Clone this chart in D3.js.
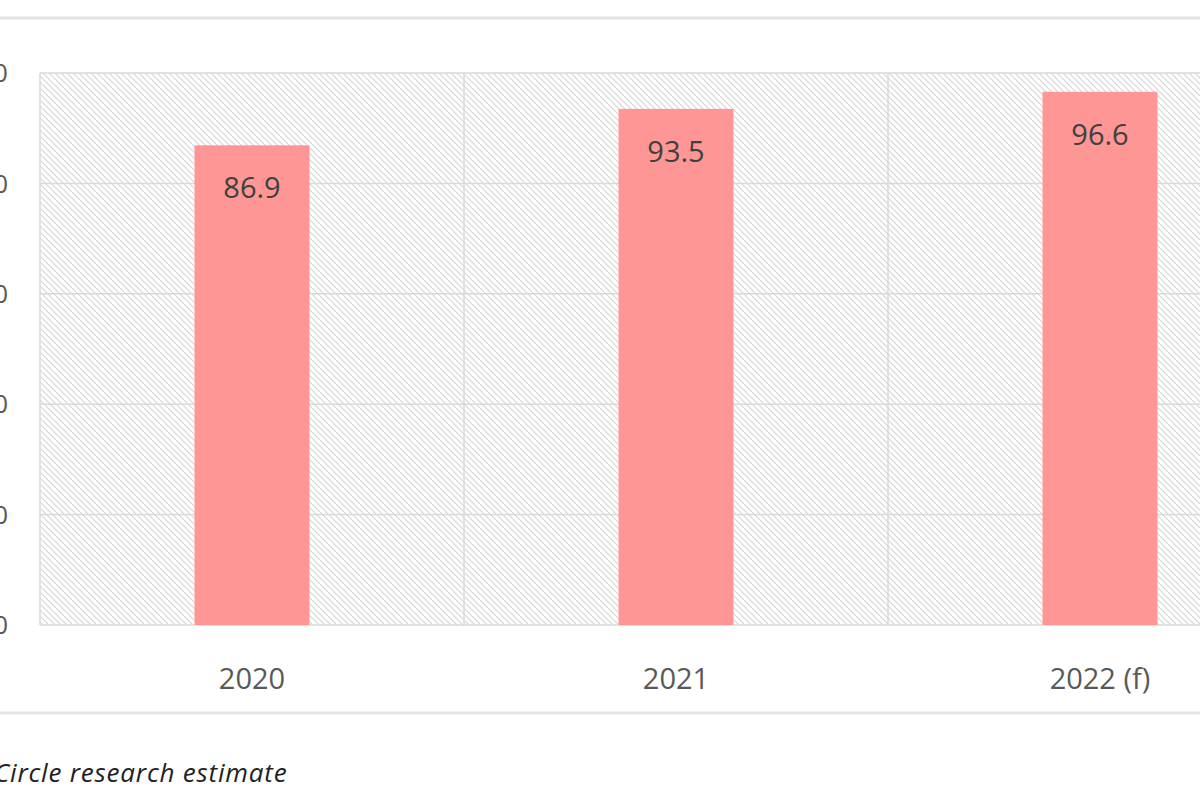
<!DOCTYPE html>
<html><head><meta charset="utf-8">
<script src="https://cdn.jsdelivr.net/npm/d3@7"></script>
<style>body{margin:0;background:#fff;overflow:hidden}</style>
</head><body><div id="chart"></div>
<script>
const width = 1200, height = 800;
const categories = ["2020", "2021", "2022 (f)"];
const values = [86.9, 93.5, 96.6];
const yTicks = [0, 20, 40, 60, 80, 100];

const svg = d3.select("#chart").append("svg").attr("width", width).attr("height", height)
    .style("font-family", "'Open Sans', sans-serif");

// hatch fill for plot background
const pat = svg.append("defs").append("pattern")
    .attr("id", "hatch").attr("patternUnits", "userSpaceOnUse")
    .attr("width", 6).attr("height", 6);
pat.append("path").attr("d", "M-1,-1 L7,7 M-1,5 L1,7 M5,-1 L7,1")
    .attr("stroke", "#d6d6d6").attr("stroke-width", 1.2);

// frame lines
svg.append("line").attr("x1", 0).attr("x2", width).attr("y1", 18).attr("y2", 18)
    .attr("stroke", "#e3e3e3").attr("stroke-width", 3);
svg.append("line").attr("x1", 0).attr("x2", width).attr("y1", 713).attr("y2", 713)
    .attr("stroke", "#e3e3e3").attr("stroke-width", 3);

const x = d3.scaleBand().domain(categories).range([40, 1312]);
const y = d3.scaleLinear().domain([0, 100]).range([625, 73]);

svg.append("rect").attr("x", 40).attr("y", y(100)).attr("width", width - 40)
    .attr("height", y(0) - y(100)).attr("fill", "url(#hatch)");

// horizontal grid
svg.append("g").selectAll("line").data(yTicks).join("line")
    .attr("x1", 40).attr("x2", width).attr("y1", d => y(d)).attr("y2", d => y(d))
    .attr("stroke", "#d9d9d9").attr("stroke-width", 1.5);
// vertical grid
svg.append("g").selectAll("line").data(categories).join("line")
    .attr("x1", d => x(d)).attr("x2", d => x(d)).attr("y1", y(100)).attr("y2", y(0))
    .attr("stroke", "#d9d9d9").attr("stroke-width", 1.5);

// y tick labels (cut off at the left edge, as in the original crop)
svg.append("g").selectAll("text").data(yTicks).join("text")
    .attr("x", 8).attr("y", d => y(d)).attr("dy", "0.35em").attr("text-anchor", "end")
    .attr("font-size", 26).attr("fill", "#595959").text(d => d);

const bw = 115;
svg.append("g").selectAll("rect").data(values).join("rect")
    .attr("x", (d, i) => x(categories[i]) + x.bandwidth() / 2 - bw / 2)
    .attr("y", d => y(d)).attr("width", bw).attr("height", d => y(0) - y(d))
    .attr("fill", "#ff9696");

svg.append("g").selectAll("text").data(values).join("text")
    .attr("x", (d, i) => x(categories[i]) + x.bandwidth() / 2)
    .attr("y", d => y(d) + 53).attr("text-anchor", "middle")
    .attr("font-size", 29).attr("fill", "#404040").text(d => d.toFixed(1));

svg.append("g").selectAll("text").data(categories).join("text")
    .attr("x", d => x(d) + x.bandwidth() / 2).attr("y", 689).attr("text-anchor", "middle")
    .attr("font-size", 29).attr("fill", "#595959").text(d => d);

svg.append("text").attr("x", -6).attr("y", 782).attr("font-size", 26)
    .attr("font-style", "italic").attr("fill", "#222").attr("letter-spacing", 0.8)
    .text("Circle research  estimate");
</script></body></html>
